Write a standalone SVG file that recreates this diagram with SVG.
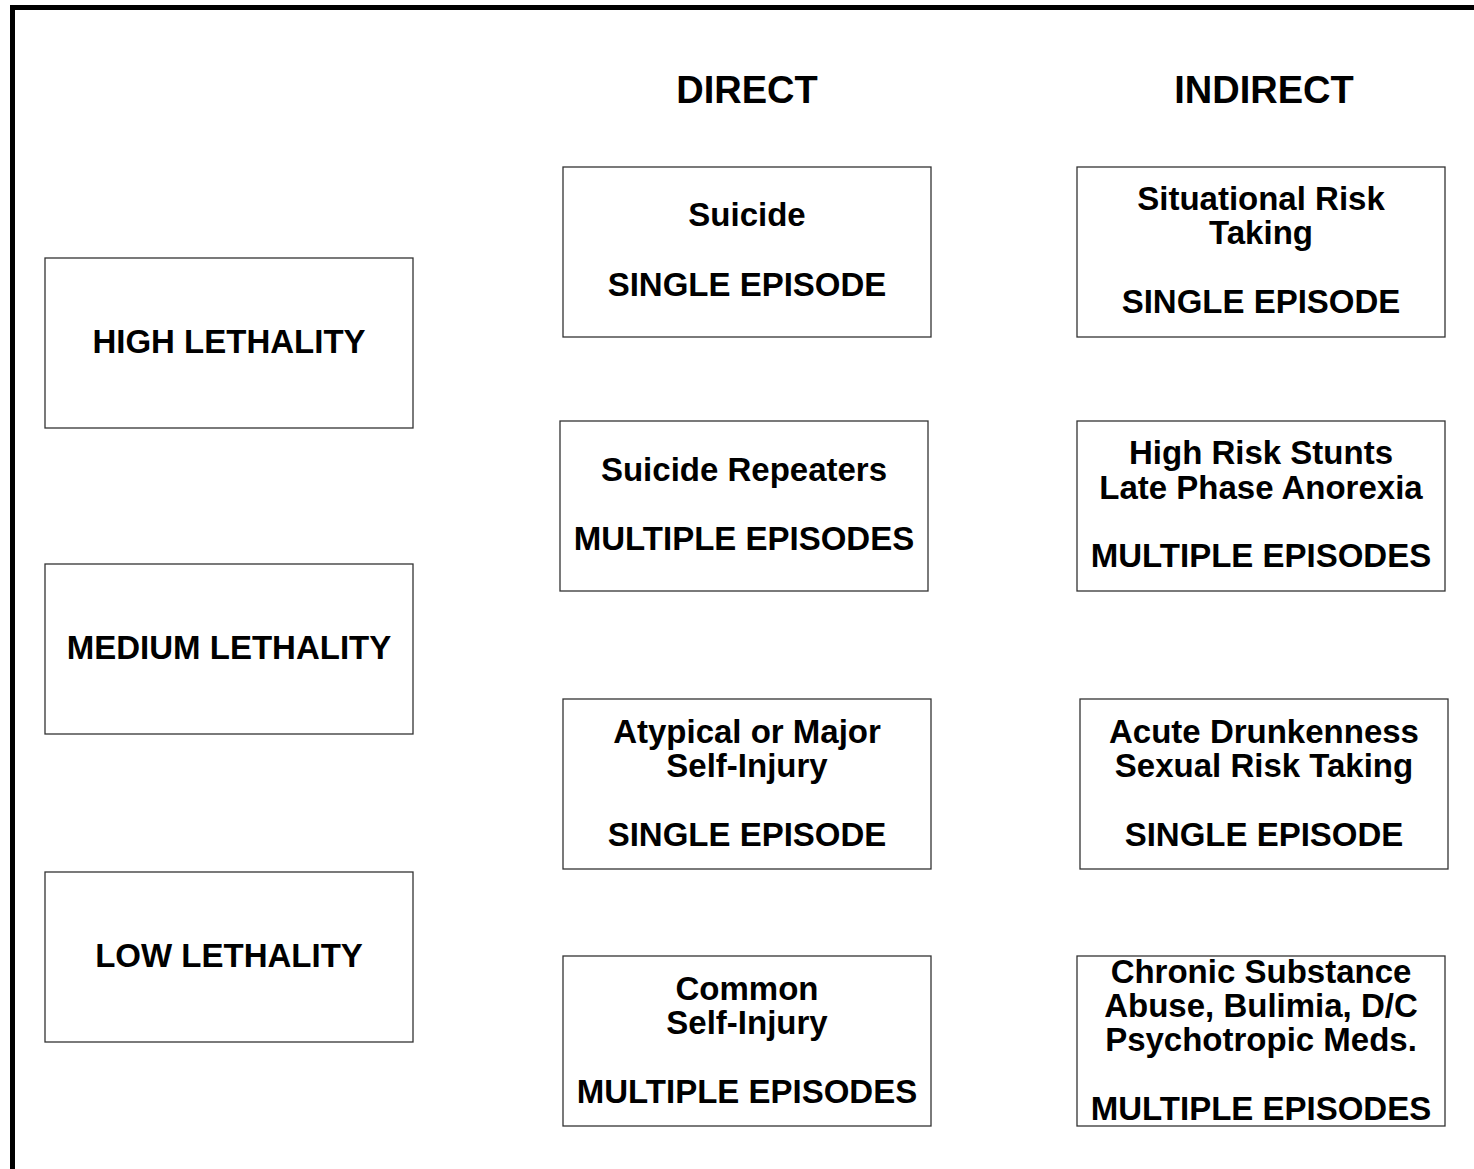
<svg xmlns="http://www.w3.org/2000/svg" width="1474" height="1169" viewBox="0 0 1474 1169">
<style>
.box{fill:#fff;stroke:#333;stroke-width:1.3}
text{font-family:"Liberation Sans",Arial,sans-serif;font-weight:bold;font-size:33px;fill:#000;text-anchor:middle}
.hd{font-size:38px}
</style>
<rect x="0" y="0" width="1474" height="1169" fill="#fff"/>
<path d="M12.5,1175 V7.5 H1480" fill="none" stroke="#000" stroke-width="5"/>
<text class="hd" x="747" y="103">DIRECT</text>
<text class="hd" x="1264" y="103">INDIRECT</text>
<g id="high"><rect class="box" x="45" y="258" width="368" height="170"/><text x="229" y="353">HIGH LETHALITY</text></g>
<g id="medium"><rect class="box" x="45" y="564" width="368" height="170"/><text x="229" y="659">MEDIUM LETHALITY</text></g>
<g id="low"><rect class="box" x="45" y="872" width="368" height="170"/><text x="229" y="967">LOW LETHALITY</text></g>
<g id="suicide"><rect class="box" x="563" y="167" width="368" height="170"/><text x="747" y="226">Suicide</text><text x="747" y="296">SINGLE EPISODE</text></g>
<g id="repeaters"><rect class="box" x="560" y="421" width="368" height="170"/><text x="744" y="481">Suicide Repeaters</text><text x="744" y="550">MULTIPLE EPISODES</text></g>
<g id="atypical"><rect class="box" x="563" y="699" width="368" height="170"/><text x="747" y="743">Atypical or Major</text><text x="747" y="777">Self-Injury</text><text x="747" y="846">SINGLE EPISODE</text></g>
<g id="common"><rect class="box" x="563" y="956" width="368" height="170"/><text x="747" y="1000">Common</text><text x="747" y="1034">Self-Injury</text><text x="747" y="1103">MULTIPLE EPISODES</text></g>
<g id="situational"><rect class="box" x="1077" y="167" width="368" height="170"/><text x="1261" y="210">Situational Risk</text><text x="1261" y="244">Taking</text><text x="1261" y="313">SINGLE EPISODE</text></g>
<g id="stunts"><rect class="box" x="1077" y="421" width="368" height="170"/><text x="1261" y="464">High Risk Stunts</text><text x="1261" y="499">Late Phase Anorexia</text><text x="1261" y="567">MULTIPLE EPISODES</text></g>
<g id="acute"><rect class="box" x="1080" y="699" width="368" height="170"/><text x="1264" y="743">Acute Drunkenness</text><text x="1264" y="777">Sexual Risk Taking</text><text x="1264" y="846">SINGLE EPISODE</text></g>
<g id="chronic"><rect class="box" x="1077" y="956" width="368" height="170"/><text x="1261" y="983">Chronic Substance</text><text x="1261" y="1017">Abuse, Bulimia, D/C</text><text x="1261" y="1051">Psychotropic Meds.</text><text x="1261" y="1120">MULTIPLE EPISODES</text></g>
<g id="connectors"></g>
</svg>
